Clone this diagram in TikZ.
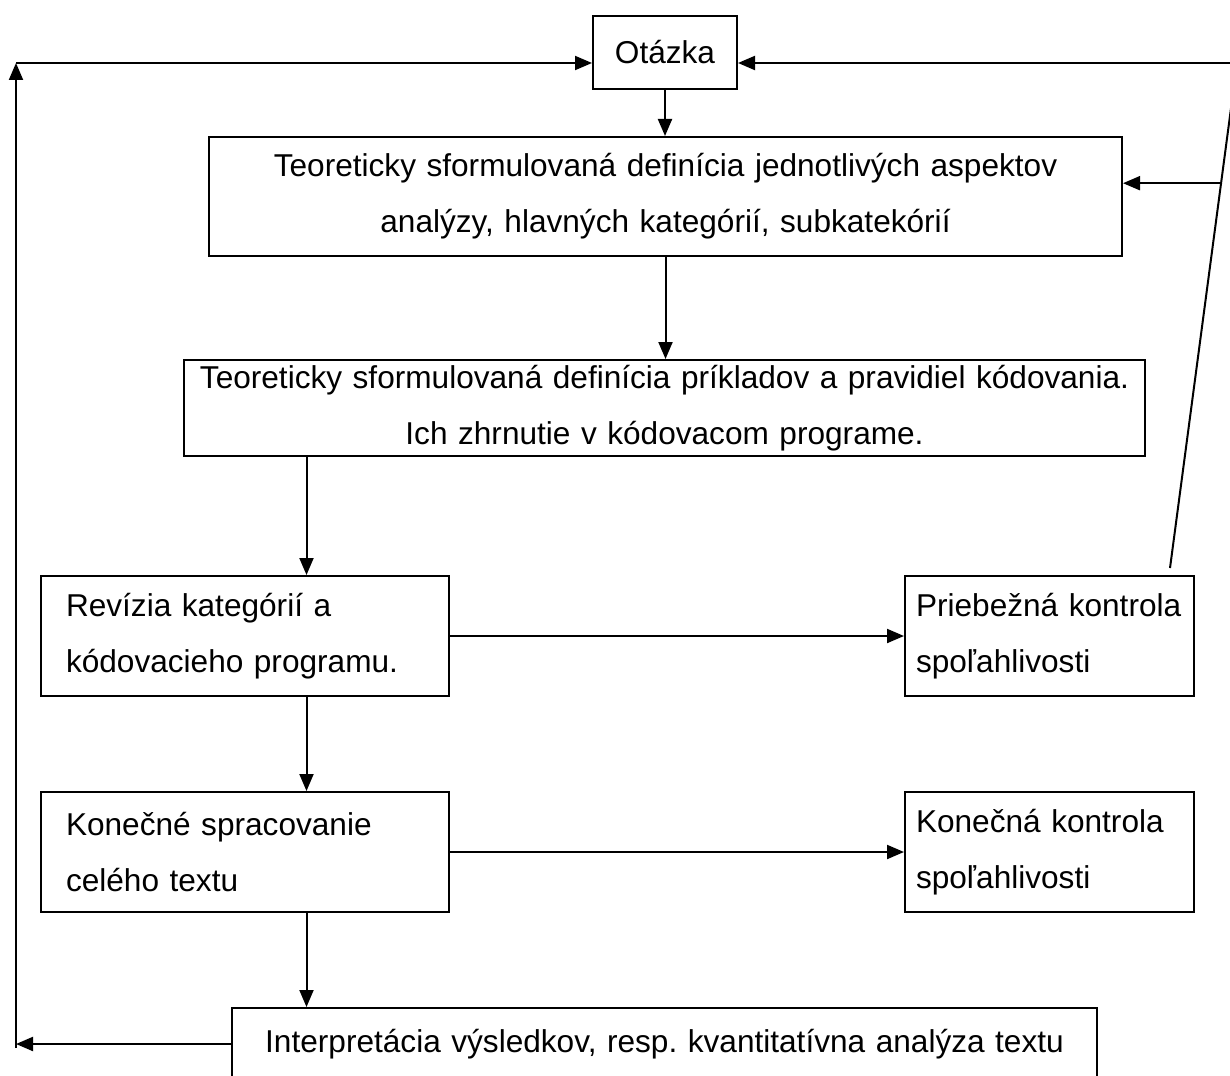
\documentclass[tikz,border=0pt]{standalone}
\usepackage{fontspec}
\setmainfont{Liberation Sans}
\frenchspacing
\usetikzlibrary{arrows.meta,calc}
\tikzset{
  box/.style={draw, line width=1pt, inner ysep=1pt, font=\fontsize{15.8}{28}\selectfont},
  cbox/.style={box, align=center, inner xsep=0pt},
  lbox/.style={box, align=left, minimum height=60pt},
  link/.style={line width=1pt, -{Triangle[length=8.5pt,width=7pt]}}
}
\begin{document}
\begin{tikzpicture}[x=0.5pt,y=-0.5pt]
\useasboundingbox (0,0) rectangle (1230,1075);
\clip (0,0) rectangle (1230,1075);
\node[cbox, anchor=north west, text width=72pt, minimum height=36.5pt] (otazka) at (592,15) {Otázka};
\node[cbox, anchor=north west, text width=456.5pt, minimum height=59.5pt] (aspekty) at (208,136)
  {Teoreticky sformulovaná definícia jednotlivých aspektov\\analýzy, hlavných kategórií, subkatekórií};
\node[cbox, anchor=north west, text width=480.5pt, minimum height=48pt] (priklady) at (183,359)
  {Teoreticky sformulovaná definícia príkladov a pravidiel kódovania.\\Ich zhrnutie v kódovacom programe.};
\node[lbox, anchor=north west, inner xsep=12.5pt, text width=179pt] (revizia) at (40,575)
  {Revízia kategórií a\\kódovacieho programu.};
\node[lbox, anchor=north west, inner xsep=12.5pt, text width=179pt] (konecne) at (40,791)
  {Konečné spracovanie\\celého textu};
\node[lbox, anchor=north west, inner xsep=5.5pt, text width=133.5pt] (priebezna) at (904,575)
  {Priebežná kontrola\\spoľahlivosti};
\node[lbox, anchor=north west, inner xsep=5.5pt, text width=133.5pt] (konkontrola) at (904,791)
  {Konečná kontrola\\spoľahlivosti};
\node[cbox, anchor=north west, text width=432.5pt, minimum height=36pt] (interp) at (231,1007)
  {Interpretácia výsledkov, resp. kvantitatívna analýza textu};

\coordinate (k) at ($(revizia.north west)!.65!(revizia.north east)$);
\coordinate (bl) at (16,1048);
\coordinate (tl) at (16,63);
\coordinate (tr) at (1237,63);
\coordinate (pd) at ($(priebezna.north east)+(-25,-7)$);
\coordinate (dg) at ($(pd)!.762!(tr)$);

\draw[link] (otazka.south) -- (otazka.south |- aspekty.north);
\draw[link] (aspekty.south) -- (aspekty.south |- priklady.north);
\draw[link] (k |- priklady.south) -- (k);
\draw[link] (revizia.south -| k) -- (k |- konecne.north);
\draw[link] (konecne.south -| k) -- (k |- interp.north);
\draw[link] (revizia) -- (priebezna);
\draw[link] (konecne) -- (konkontrola);

% spatne vazby
\draw[link] (interp.west) -- (interp.west -| bl);
\draw[link] (bl) -- (tl);
\draw[link] (tl) -- (tl -| otazka.west);
\draw[line width=1pt] (pd) -- (tr);
\draw[link] (tr) -- (tr -| otazka.east);
\draw[link] (dg) -- (dg -| aspekty.east);
\end{tikzpicture}
\end{document}
